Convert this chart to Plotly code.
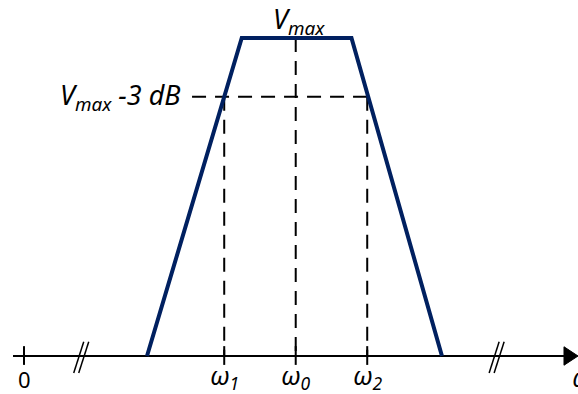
import plotly.graph_objects as go

# Idealised band-pass amplitude response (normalised units: omega0 = 0, omega1/omega2 = -/+1)
omega = [-2.08, -0.755, 0.78, 2.045]
amplitude = [0.0, 1.0, 1.0, 0.0]

v_max = 1.0
v_half = 0.815            # level of the -3 dB line
omega_1, omega_0, omega_2 = -1.0, 0.0, 1.0
omega_zero = -3.8         # position of the origin tick
breaks = [-3.0, 2.81]     # axis break marks

tick_vals = [omega_zero, omega_1, omega_0, omega_2]
tick_text = ["0", "<i>ω<sub>1</sub></i>", "<i>ω<sub>0</sub></i>", "<i>ω<sub>2</sub></i>"]

X_RANGE = [-4.136, 3.948]
Y_RANGE = [-0.1195, 1.1195]
AXIS_START = -3.954
ARROW_BASE = 3.752

FONT = "Noto Sans"
NAVY = "#002060"
DASH = "14px,9px"

fig = go.Figure()

# frequency axis line
fig.add_trace(go.Scatter(x=[AXIS_START, ARROW_BASE], y=[0, 0], mode="lines",
                         line=dict(color="black", width=2), hoverinfo="skip"))
# arrow head
fig.add_trace(go.Scatter(x=[ARROW_BASE, X_RANGE[1], ARROW_BASE, ARROW_BASE],
                         y=[0.029, 0, -0.029, 0.029], mode="lines", fill="toself",
                         fillcolor="black", line=dict(color="black", width=1),
                         hoverinfo="skip"))

# tick marks
tx, ty = [], []
for t in tick_vals:
    tx += [t, t, None]
    ty += [0.031, -0.028, None]
fig.add_trace(go.Scatter(x=tx, y=ty, mode="lines",
                         line=dict(color="black", width=2), hoverinfo="skip"))

# break marks "//"
bx, by = [], []
for b in breaks:
    for off in (-0.035, 0.035):
        bx += [b + off - 0.07, b + off + 0.07, None]
        by += [-0.0535, 0.0445, None]
fig.add_trace(go.Scatter(x=bx, y=by, mode="lines",
                         line=dict(color="black", width=1.5), hoverinfo="skip"))

# dashed guide lines
dash_line = dict(color="black", width=2, dash=DASH)
fig.add_trace(go.Scatter(x=[-1.45, omega_2], y=[v_half, v_half], mode="lines",
                         line=dash_line, hoverinfo="skip"))
for w, top in [(omega_1, v_half), (omega_0, v_max), (omega_2, v_half)]:
    fig.add_trace(go.Scatter(x=[w, w], y=[top, 0], mode="lines",
                             line=dash_line, hoverinfo="skip"))

# response curve
fig.add_trace(go.Scatter(x=omega, y=amplitude, mode="lines",
                         line=dict(color=NAVY, width=4), hoverinfo="skip"))

annotations = []
for v, txt in zip(tick_vals, tick_text):
    size = 22 if txt == "0" else 25
    yy = -0.072 if txt == "0" else -0.066
    annotations.append(dict(x=v, y=yy, text=txt, showarrow=False,
                            xanchor="center", yanchor="middle",
                            font=dict(family=FONT, size=size, color="black")))
# axis title, partly running off the right edge
annotations.append(dict(x=1.006, xref="paper", y=-0.066, text="<i>ω</i>",
                        showarrow=False, xanchor="center", yanchor="middle",
                        font=dict(family=FONT, size=25, color="black")))
annotations.append(dict(x=omega_0 + 0.04, y=1.055, text="<i>V<sub>max</sub></i>",
                        showarrow=False, xanchor="center", yanchor="middle",
                        font=dict(family=FONT, size=27, color="black")))
annotations.append(dict(x=-1.575, y=v_half, text="<i>V<sub>max</sub> -3 dB</i>",
                        showarrow=False, xanchor="right", yanchor="middle",
                        font=dict(family=FONT, size=27, color="black")))

fig.update_layout(
    width=578, height=394,
    margin=dict(l=0, r=0, t=0, b=0),
    paper_bgcolor="white", plot_bgcolor="white",
    showlegend=False,
    xaxis=dict(range=X_RANGE, visible=False, fixedrange=True),
    yaxis=dict(range=Y_RANGE, visible=False, fixedrange=True),
    annotations=annotations,
)

fig.write_html("out.html")
